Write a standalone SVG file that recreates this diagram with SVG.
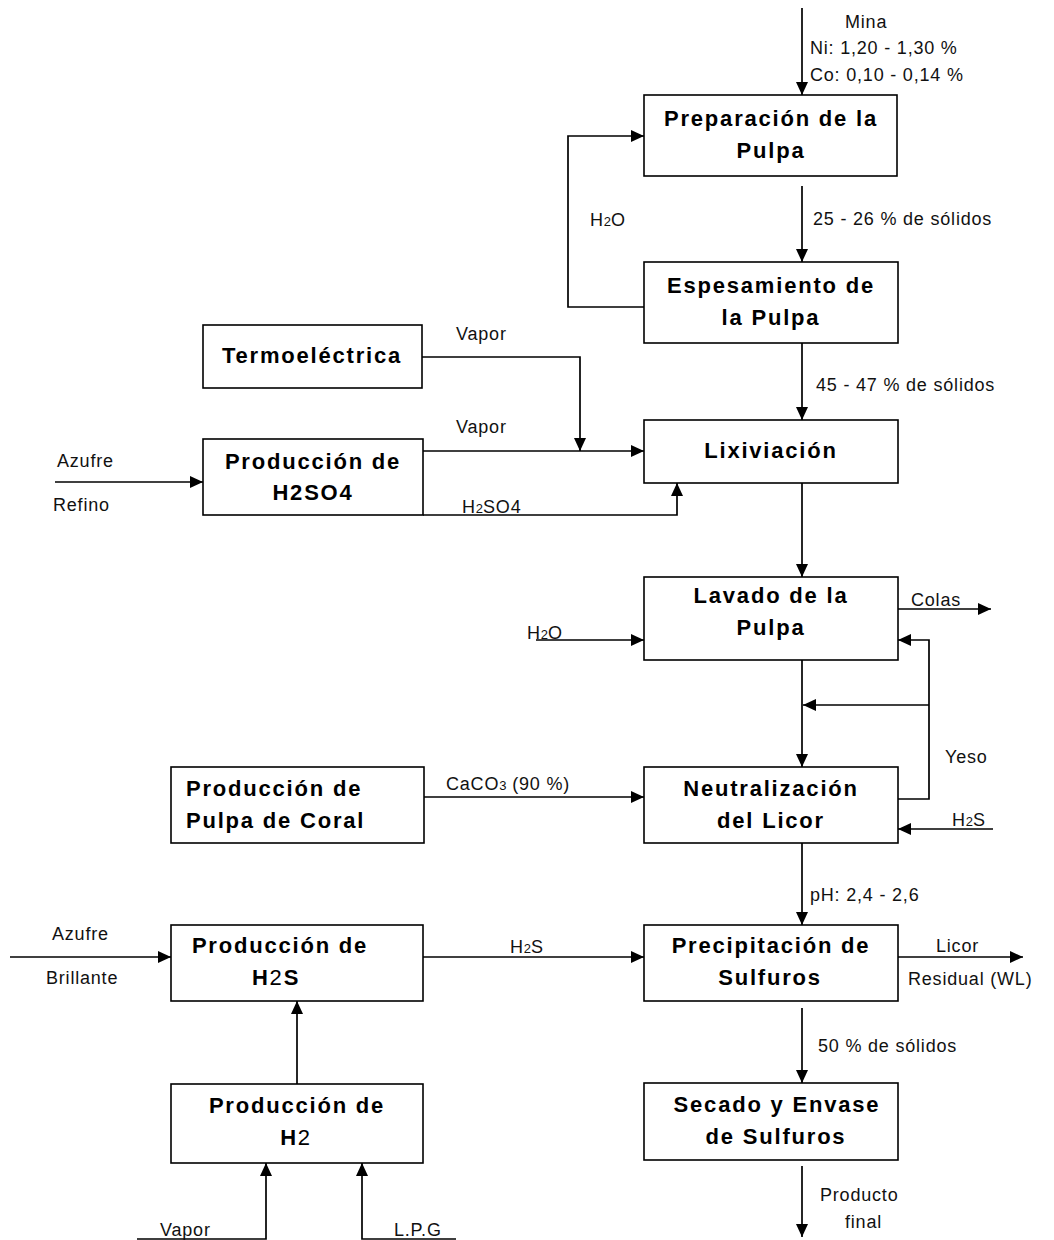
<svg xmlns="http://www.w3.org/2000/svg" width="1054" height="1240" viewBox="0 0 1054 1240">
<style>
.box{fill:#fff;stroke:#000;stroke-width:1.6}
.t{font-family:"Liberation Sans",Arial,sans-serif;font-weight:bold;font-size:22px;letter-spacing:1.8px;fill:#000;text-anchor:middle}
.tl{text-anchor:start}
.l{font-family:"Liberation Sans",Arial,sans-serif;font-size:18px;letter-spacing:0.8px;fill:#111}
.sub{font-size:13px;letter-spacing:0}
.nw{font-weight:normal}
.c{fill:none;stroke:#000;stroke-width:1.7}
</style>
<defs>
<marker id="ar" markerUnits="userSpaceOnUse" markerWidth="14" markerHeight="13" refX="13" refY="6" orient="auto">
<path d="M0,0 L13,6 L0,12 z" fill="#000"/>
</marker>
</defs>
<rect width="1054" height="1240" fill="#fff"/>
<g id="connectors">
<path class="c" d="M802,8 V95" marker-end="url(#ar)"/>
<path class="c" d="M802,186 V262" marker-end="url(#ar)"/>
<path class="c" d="M644,307 H568 V136 H644" marker-end="url(#ar)"/>
<path class="c" d="M802,343 V420" marker-end="url(#ar)"/>
<path class="c" d="M422,357 H580 V451" marker-end="url(#ar)"/>
<path class="c" d="M423,451 H644" marker-end="url(#ar)"/>
<path class="c" d="M423,515 H677 V483" marker-end="url(#ar)"/>
<path class="c" d="M55,482 H203" marker-end="url(#ar)"/>
<path class="c" d="M802,483 V577" marker-end="url(#ar)"/>
<path class="c" d="M536,640 H644" marker-end="url(#ar)"/>
<path class="c" d="M898,609 H991" marker-end="url(#ar)"/>
<path class="c" d="M802,660 V767" marker-end="url(#ar)"/>
<path class="c" d="M898,799 H929 V640 H898" marker-end="url(#ar)"/>
<path class="c" d="M929,705 H803" marker-end="url(#ar)"/>
<path class="c" d="M993,829 H898" marker-end="url(#ar)"/>
<path class="c" d="M424,797 H644" marker-end="url(#ar)"/>
<path class="c" d="M802,843 V925" marker-end="url(#ar)"/>
<path class="c" d="M423,957 H644" marker-end="url(#ar)"/>
<path class="c" d="M10,957 H171" marker-end="url(#ar)"/>
<path class="c" d="M898,957 H1023" marker-end="url(#ar)"/>
<path class="c" d="M802,1008 V1083" marker-end="url(#ar)"/>
<path class="c" d="M802,1166 V1237" marker-end="url(#ar)"/>
<path class="c" d="M297,1084 V1001" marker-end="url(#ar)"/>
<path class="c" d="M137,1239 H266 V1163" marker-end="url(#ar)"/>
<path class="c" d="M456,1239 H362 V1163" marker-end="url(#ar)"/>
</g>
<g id="preparacion"><rect class="box" x="644" y="95" width="253" height="81"/><text class="t" x="771" y="126">Preparación de la</text><text class="t" x="771" y="158">Pulpa</text></g>
<g id="espesamiento"><rect class="box" x="644" y="262" width="254" height="81"/><text class="t" x="771" y="293">Espesamiento de</text><text class="t" x="771" y="325">la Pulpa</text></g>
<g id="lixiviacion"><rect class="box" x="644" y="420" width="254" height="63"/><text class="t" x="771" y="458">Lixiviación</text></g>
<g id="termoelectrica"><rect class="box" x="203" y="325" width="219" height="63"/><text class="t" x="312" y="363">Termoeléctrica</text></g>
<g id="h2so4"><rect class="box" x="203" y="439" width="220" height="76"/><text class="t" x="313" y="469">Producción de</text><text class="t" x="313" y="500">H2SO4</text></g>
<g id="lavado"><rect class="box" x="644" y="577" width="254" height="83"/><text class="t" x="771" y="603">Lavado de la</text><text class="t" x="771" y="635">Pulpa</text></g>
<g id="neutralizacion"><rect class="box" x="644" y="767" width="254" height="76"/><text class="t" x="771" y="796">Neutralización</text><text class="t" x="771" y="828">del Licor</text></g>
<g id="coral"><rect class="box" x="171" y="767" width="253" height="76"/><text class="t tl" x="186" y="796">Producción de</text><text class="t tl" x="186" y="828">Pulpa de Coral</text></g>
<g id="h2s"><rect class="box" x="171" y="925" width="252" height="76"/><text class="t" x="280" y="953">Producción de</text><text class="t" x="276" y="985">H<tspan class="nw">2</tspan>S</text></g>
<g id="h2"><rect class="box" x="171" y="1084" width="252" height="79"/><text class="t" x="297" y="1113">Producción de</text><text class="t" x="296" y="1145">H<tspan class="nw">2</tspan></text></g>
<g id="precipitacion"><rect class="box" x="644" y="925" width="254" height="76"/><text class="t" x="771" y="953">Precipitación de</text><text class="t" x="770" y="985">Sulfuros</text></g>
<g id="secado"><rect class="box" x="644" y="1083" width="254" height="77"/><text class="t" x="777" y="1112">Secado y Envase</text><text class="t" x="776" y="1144">de Sulfuros</text></g>
<g id="labels">
<text class="l" x="845" y="28">Mina</text>
<text class="l" x="810" y="54">Ni: 1,20 - 1,30 %</text>
<text class="l" x="810" y="81">Co: 0,10 - 0,14 %</text>
<text class="l" x="813" y="225">25 - 26 % de sólidos</text>
<text class="l" x="590" y="226">H<tspan class="sub">2</tspan>O</text>
<text class="l" x="816" y="391">45 - 47 % de sólidos</text>
<text class="l" x="456" y="340">Vapor</text>
<text class="l" x="456" y="433">Vapor</text>
<text class="l" x="57" y="467">Azufre</text>
<text class="l" x="53" y="511">Refino</text>
<text class="l" x="462" y="513">H<tspan class="sub">2</tspan>SO4</text>
<text class="l" x="911" y="606">Colas</text>
<text class="l" x="527" y="639">H<tspan class="sub">2</tspan>O</text>
<text class="l" x="945" y="763">Yeso</text>
<text class="l" x="446" y="790">CaCO<tspan class="sub">3</tspan> (90 %)</text>
<text class="l" x="952" y="826">H<tspan class="sub">2</tspan>S</text>
<text class="l" x="810" y="901">pH: 2,4 - 2,6</text>
<text class="l" x="52" y="940">Azufre</text>
<text class="l" x="46" y="984">Brillante</text>
<text class="l" x="510" y="953">H<tspan class="sub">2</tspan>S</text>
<text class="l" x="936" y="952">Licor</text>
<text class="l" x="908" y="985">Residual (WL)</text>
<text class="l" x="818" y="1052">50 % de sólidos</text>
<text class="l" x="820" y="1201">Producto</text>
<text class="l" x="845" y="1228">final</text>
<text class="l" x="160" y="1236">Vapor</text>
<text class="l" x="394" y="1236">L.P.G</text>
</g>
</svg>
